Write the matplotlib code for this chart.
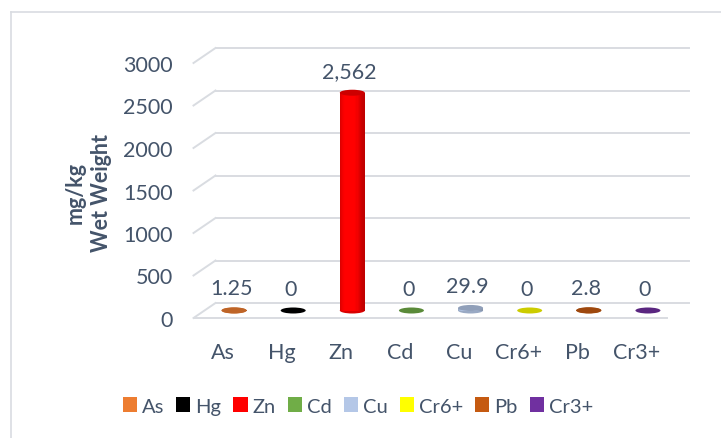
import matplotlib
matplotlib.use("Agg")
import matplotlib.pyplot as plt
from matplotlib.patches import Rectangle, Ellipse, Patch
from matplotlib.lines import Line2D
from matplotlib.transforms import ScaledTranslation
from matplotlib.colors import to_rgb
import numpy as np

metals = ["As", "Hg", "Zn", "Cd", "Cu", "Cr6+", "Pb", "Cr3+"]
values = [1.25, 0, 2562, 0, 29.9, 0, 2.8, 0]
colors = ["#ED7D31", "#000000", "#FF0000", "#70AD47", "#B4C7E7", "#FFFF00", "#C55A11", "#7030A0"]
yticks = [0, 500, 1000, 1500, 2000, 2500, 3000]

TEXT = "#44546A"
GRID = "#D9DCE1"
FS = 15.5
plt.rcParams["font.family"] = ["Lato", "DejaVu Sans"]

DPI = 100
W, H = 721, 439
fig = plt.figure(figsize=(W / DPI, H / DPI), dpi=DPI)
ax = fig.add_axes([193.5 / W, 1 - 319 / H, 473 / W, 255 / H])
ax.set_xlim(-0.5, len(metals) - 0.5)
ax.set_ylim(0, 3000)
for s in ax.spines.values():
    s.set_visible(False)

# depth offsets (pixels) for the bar plane and the back wall
mid = ax.transData + ScaledTranslation(11 / DPI, 7.5 / DPI, fig.dpi_scale_trans)
back = ax.transData + ScaledTranslation(22 / DPI, 15 / DPI, fig.dpi_scale_trans)

x0, x1 = -0.5, len(metals) - 0.5
for v in yticks:
    ax.plot([x0, x1], [v, v], transform=back, color=GRID, lw=1.4, clip_on=False, zorder=1)
    # side wall diagonal, front edge to back edge
    p0 = ax.transData.transform((x0, v))
    p1 = back.transform((x0, v))
    fig.add_artist(Line2D([p0[0] / W, p1[0] / W], [p0[1] / H, p1[1] / H], color=GRID, lw=1.4))
# floor front edge
ax.plot([x0, x1], [0, 0], color=GRID, lw=1.4, clip_on=False, zorder=1)


def shade(c, f):
    r, g, b = to_rgb(c)
    return (r * f, g * f, b * f)


bar_w = 0.423
cap_h = 6 * 3000 / 255
nstrip = 24
for i, (v, c) in enumerate(zip(values, colors)):
    if v > 0:
        ax.add_patch(Ellipse((i, 0), bar_w, cap_h, transform=mid, facecolor=shade(c, 0.85),
                             edgecolor="none", clip_on=False, zorder=3))
        edges = np.linspace(i - bar_w / 2, i + bar_w / 2, nstrip + 1)
        for k in range(nstrip):
            t = (k + 0.5) / nstrip
            f = 0.75 + 0.25 * min(1.0, np.exp(-((t - 0.4) / 0.4) ** 4) * 1.05)
            ax.add_patch(Rectangle((edges[k], 0), edges[k + 1] - edges[k], v, transform=mid,
                                   facecolor=shade(c, f), edgecolor="none", clip_on=False, zorder=3))
    ax.add_patch(Ellipse((i, v), bar_w, cap_h, transform=mid, facecolor=shade(c, 0.8),
                         edgecolor="none", clip_on=False, zorder=4))
    label = f"{int(v):,}" if float(v).is_integer() else str(v)
    ax.annotate(label, xy=(i, v), xycoords=mid, xytext=(-3, 22), textcoords="offset pixels",
                ha="center", va="center", fontsize=FS, color=TEXT, zorder=5)

ax.set_yticks(yticks)
ax.set_yticklabels([str(t) for t in yticks])
ax.set_xticks(range(len(metals)))
ax.set_xticklabels(metals)
ax.tick_params(axis="y", length=0, pad=15, labelsize=FS, labelcolor=TEXT)
ax.tick_params(axis="x", length=0, pad=17, labelsize=FS, labelcolor=TEXT)

fig.text(88 / W, 1 - 193 / H, "mg/kg\nWet Weight", rotation=90, ha="center", va="center",
         multialignment="center", fontsize=FS, fontweight="bold", color=TEXT, linespacing=1.3)

handles = [Patch(facecolor=c, edgecolor="none") for c in colors]
fig.legend(handles, metals, loc="center", bbox_to_anchor=(358 / W, 1 - 407 / H), ncol=8,
           frameon=False, fontsize=14.5, labelcolor=TEXT, handlelength=0.7, handleheight=0.7,
           handletextpad=0.25, columnspacing=0.6)

# chart area border (top and left edges visible)
fig.add_artist(Line2D([11 / W, 1], [1 - 13 / H, 1 - 13 / H], color=GRID, lw=1.2))
fig.add_artist(Line2D([11 / W, 11 / W], [1 - 13 / H, 0], color=GRID, lw=1.2))

fig.savefig("out.png", dpi=DPI)
